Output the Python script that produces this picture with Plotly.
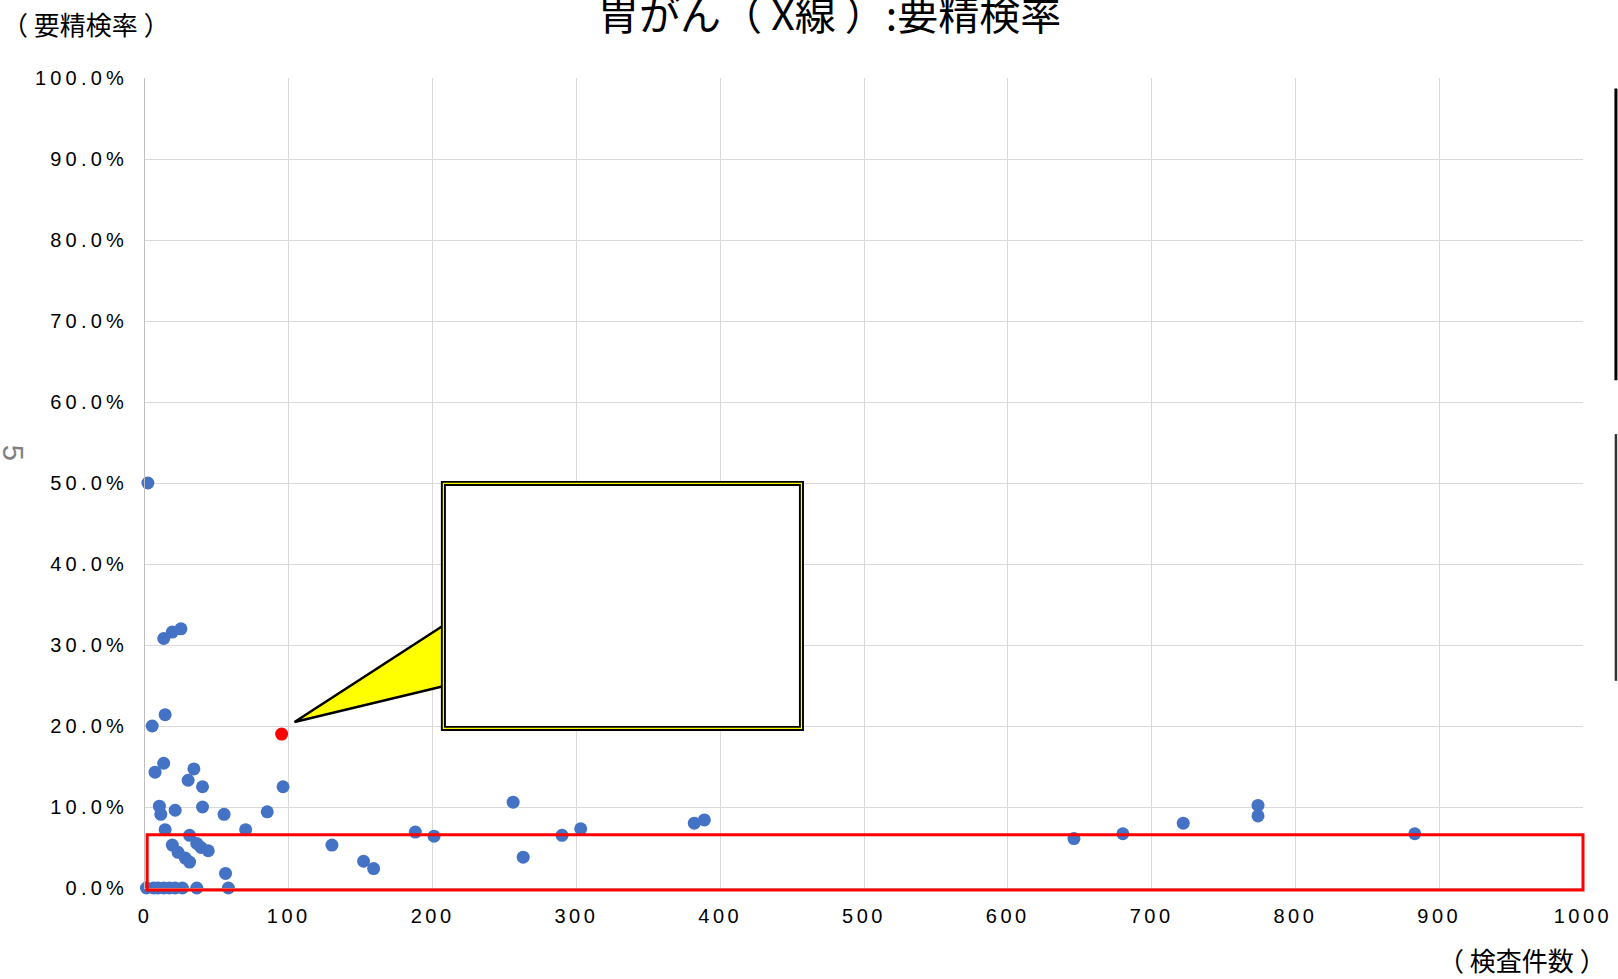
import plotly.graph_objects as go

# ---- data ----
exam_counts = [2, 13, 19, 25, 5, 14, 7, 13, 34, 30, 40, 96, 10, 11, 21, 40, 55, 85,
               14, 70, 31, 19, 23, 28, 31, 36, 39, 44, 56,
               1, 6, 9, 13, 17, 21, 26, 36, 58,
               130, 152, 159, 188, 201, 256, 263, 290, 303, 382, 389,
               646, 680, 722, 774, 774, 883]
recall_rates = [0.500, 0.308, 0.316, 0.320, 0.200, 0.214, 0.143, 0.154, 0.147, 0.133, 0.125, 0.125,
                0.101, 0.091, 0.096, 0.100, 0.091, 0.094,
                0.072, 0.072, 0.065, 0.053, 0.044, 0.037, 0.032, 0.055, 0.050, 0.046, 0.018,
                0.0, 0.0, 0.0, 0.0, 0.0, 0.0, 0.0, 0.0, 0.0,
                0.053, 0.033, 0.024, 0.069, 0.064, 0.106, 0.038, 0.065, 0.073, 0.080, 0.084,
                0.061, 0.067, 0.080, 0.102, 0.089, 0.067]
highlight_count = [95]
highlight_rate = [0.190]

x_ticks = [0, 100, 200, 300, 400, 500, 600, 700, 800, 900, 1000]
y_ticks = [0.0, 0.1, 0.2, 0.3, 0.4, 0.5, 0.6, 0.7, 0.8, 0.9, 1.0]

title_text = "胃がん（ X線 ）:要精検率"
y_label = "（ 要精検率 ）"
x_label = "（ 検査件数 ）"

CJK = "Noto Sans CJK JP"
LAT = "Liberation Sans, Arial, sans-serif"

fig = go.Figure()
fig.add_trace(go.Scatter(x=exam_counts, y=recall_rates, mode="markers",
                         marker=dict(color="#4472C4", size=13, line=dict(width=0)),
                         cliponaxis=False, showlegend=False))
fig.add_trace(go.Scatter(x=highlight_count, y=highlight_rate, mode="markers",
                         marker=dict(color="#FF0000", size=13, line=dict(width=0)),
                         cliponaxis=False, showlegend=False))

shapes = [
    # red highlight box (paper coords: x range 0-1000 -> 0-1, y range 0-1)
    dict(type="rect", xref="paper", yref="paper", x0=0.0015, x1=1.0, y0=-0.0025, y1=0.0656,
         line=dict(color="#FF0000", width=3), fillcolor="rgba(0,0,0,0)"),
    # callout pointer
    dict(type="path", xref="x", yref="y",
         path="M 104,0.205 L 207.5,0.324 L 207.5,0.249 Z",
         fillcolor="#FFFF00", line=dict(color="#000000", width=2.5)),
    # callout box: double border black / yellow / black
    dict(type="rect", xref="x", yref="y", x0=207.5, x1=456.5, y0=0.197, y1=0.4995,
         fillcolor="#FFFFFF", line=dict(color="#000000", width=5)),
    dict(type="rect", xref="x", yref="y", x0=207.5, x1=456.5, y0=0.197, y1=0.4995,
         fillcolor="rgba(0,0,0,0)", line=dict(color="#FFFF00", width=1.2)),
    # right-edge vertical lines
    dict(type="line", xref="paper", yref="paper", x0=1.0229, x1=1.0229, y0=0.627, y1=0.9869,
         line=dict(color="#000000", width=3)),
    dict(type="line", xref="paper", yref="paper", x0=1.0229, x1=1.0229, y0=0.2558, y1=0.5604,
         line=dict(color="#333333", width=2.5)),
]

annotations = [
    dict(text=title_text, xref="paper", yref="paper", x=0.476, y=1.082,
         xanchor="center", yanchor="middle", showarrow=False,
         font=dict(family=CJK, size=41, color="#000000")),
    dict(text=y_label, xref="paper", yref="paper", x=-0.0412, y=1.067,
         xanchor="center", yanchor="middle", showarrow=False,
         font=dict(family=CJK, size=26, color="#000000")),
    dict(text=x_label, xref="paper", yref="paper", x=0.9576, y=-0.088,
         xanchor="center", yanchor="middle", showarrow=False,
         font=dict(family=CJK, size=26, color="#000000")),
    dict(text="5", xref="paper", yref="paper", x=-0.0921, y=0.538,
         xanchor="center", yanchor="middle", showarrow=False, textangle=90,
         font=dict(family=LAT, size=29, color="#808080")),
]

fig.update_layout(
    width=1618, height=979,
    margin=dict(l=144.5, r=35, t=77.5, b=90.5),
    paper_bgcolor="#FFFFFF", plot_bgcolor="#FFFFFF",
    shapes=shapes, annotations=annotations,
    font=dict(family=LAT, size=20, color="#000000"),
)
fig.update_xaxes(range=[0, 1000], tickvals=x_ticks, showgrid=True, gridcolor="#D9D9D9",
                 gridwidth=1, zeroline=False, showline=True, linecolor="#BFBFBF", linewidth=1,
                 ticks="outside", ticklen=10, tickcolor="rgba(0,0,0,0)",
                 tickfont=dict(family=LAT, size=20, color="#000000"))
fig.update_yaxes(range=[0, 1], tickvals=y_ticks, tickformat=".1%", showgrid=True,
                 gridcolor="#D9D9D9", gridwidth=1, zeroline=False, showline=True,
                 linecolor="#BFBFBF", linewidth=1,
                 ticks="outside", ticklen=12, tickcolor="rgba(0,0,0,0)",
                 tickfont=dict(family=LAT, size=20, color="#000000"))

post = """
var s = document.createElement('style');
s.innerHTML = 'body{margin:0;} .xtick text {letter-spacing:3.5px;} .ytick text {letter-spacing:4.2px;}';
document.head.appendChild(s);
"""
fig.write_html("out.html", post_script=post, config={"displayModeBar": False})
